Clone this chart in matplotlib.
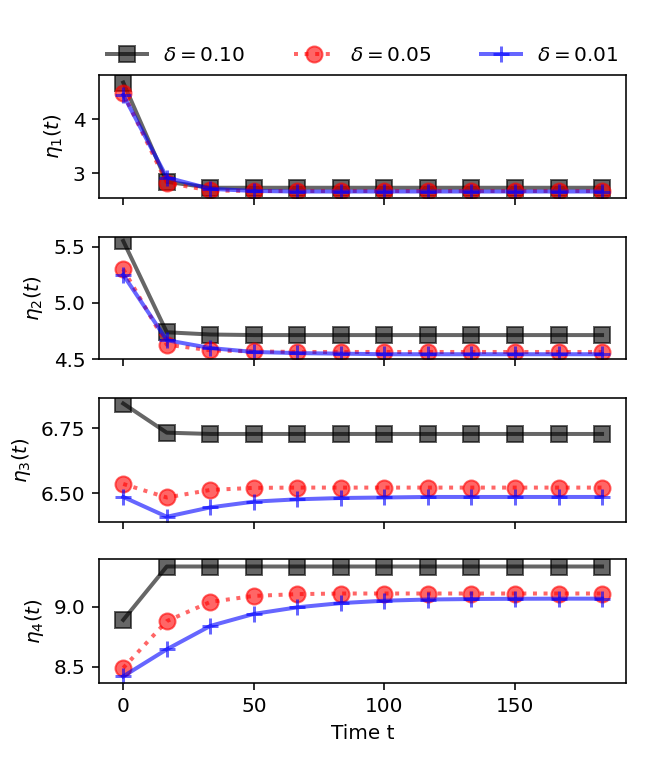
import numpy as np
import matplotlib
matplotlib.use("Agg")
import matplotlib.pyplot as plt

# time grid (12 samples)
t = [0, 16.67, 33.33, 50, 66.67, 83.33, 100, 116.67, 133.33, 150, 166.67, 183.33]

# eta_1
eta1_d10 = [4.68, 2.84, 2.73, 2.73, 2.73, 2.73, 2.73, 2.73, 2.73, 2.73, 2.73, 2.73]
eta1_d05 = [4.48, 2.82, 2.68, 2.67, 2.67, 2.67, 2.67, 2.67, 2.67, 2.67, 2.67, 2.67]
eta1_d01 = [4.45, 2.92, 2.71, 2.67, 2.66, 2.66, 2.66, 2.66, 2.66, 2.66, 2.66, 2.66]

# eta_2
eta2_d10 = [5.55, 4.74, 4.72, 4.715, 4.715, 4.715, 4.715, 4.715, 4.715, 4.715, 4.715, 4.715]
eta2_d05 = [5.30, 4.63, 4.58, 4.57, 4.565, 4.565, 4.565, 4.565, 4.565, 4.565, 4.565, 4.565]
eta2_d01 = [5.25, 4.67, 4.60, 4.565, 4.555, 4.55, 4.545, 4.545, 4.545, 4.545, 4.545, 4.545]

# eta_3
eta3_d10 = [6.845, 6.733, 6.728, 6.728, 6.728, 6.728, 6.728, 6.728, 6.728, 6.728, 6.728, 6.728]
eta3_d05 = [6.536, 6.484, 6.513, 6.521, 6.522, 6.522, 6.522, 6.522, 6.522, 6.522, 6.522, 6.522]
eta3_d01 = [6.486, 6.410, 6.446, 6.468, 6.477, 6.482, 6.484, 6.486, 6.486, 6.486, 6.486, 6.486]

# eta_4
eta4_d10 = [8.89, 9.335, 9.335, 9.335, 9.335, 9.335, 9.335, 9.335, 9.335, 9.335, 9.335, 9.335]
eta4_d05 = [8.49, 8.88, 9.04, 9.09, 9.105, 9.11, 9.11, 9.11, 9.11, 9.11, 9.11, 9.11]
eta4_d01 = [8.42, 8.645, 8.84, 8.94, 8.995, 9.03, 9.05, 9.06, 9.064, 9.066, 9.067, 9.067]

labels = [r'$\delta = 0.10$', r'$\delta = 0.05$', r'$\delta = 0.01$']
ylabels = [r'$\eta_1(t)$', r'$\eta_2(t)$', r'$\eta_3(t)$', r'$\eta_4(t)$']
series = [(eta1_d10, eta1_d05, eta1_d01),
          (eta2_d10, eta2_d05, eta2_d01),
          (eta3_d10, eta3_d05, eta3_d01),
          (eta4_d10, eta4_d05, eta4_d01)]
ylims = [(2.54, 4.82), (4.5, 5.588), (6.391, 6.865), (8.367, 9.395)]
yticks = [[3, 4], [4.5, 5.0, 5.5], [6.50, 6.75], [8.5, 9.0]]
ytickfmt = ['%d', '%.1f', '%.2f', '%.1f']

W, H = 664, 759
fig = plt.figure(figsize=(W / 144.0, H / 144.0), dpi=144)

# axes boxes in pixels (left, top, right, bottom)
boxes = [(99.3, 75.0, 626.0, 198.0),
         (99.3, 236.7, 626.0, 359.3),
         (99.3, 398.3, 626.0, 521.7),
         (99.3, 559.3, 626.0, 682.7)]

axes = []
for i, (l, tp, r, b) in enumerate(boxes):
    rect = [l / W, 1 - b / H, (r - l) / W, (b - tp) / H]
    if i == 0:
        ax = fig.add_axes(rect)
    else:
        ax = fig.add_axes(rect, sharex=axes[0])
    axes.append(ax)

for i, ax in enumerate(axes):
    d10, d05, d01 = series[i]
    ax.plot(t, d10, 'ks-', alpha=0.6, lw=2, ms=8, label=labels[0])
    ax.plot(t, d05, 'ro:', alpha=0.6, lw=2, ms=8, label=labels[1])
    ax.plot(t, d01, 'b+-', alpha=0.6, lw=2, ms=8, mew=1.5, label=labels[2])
    ax.set_ylim(*ylims[i])
    ax.set_yticks(yticks[i])
    ax.set_yticklabels([ytickfmt[i] % v for v in yticks[i]])
    ax.set_ylabel(ylabels[i])
    if i < 3:
        ax.tick_params(labelbottom=False)

axes[0].set_xlim(-9.17, 192.5)
axes[0].set_xticks([0, 50, 100, 150])
axes[3].set_xlabel('Time t')

axes[0].legend(loc='lower left', bbox_to_anchor=(0.0, 1.02, 1.0, 0.2),
               ncol=3, mode='expand', frameon=False, borderaxespad=0.0)

fig.savefig('out.png', dpi=144)
